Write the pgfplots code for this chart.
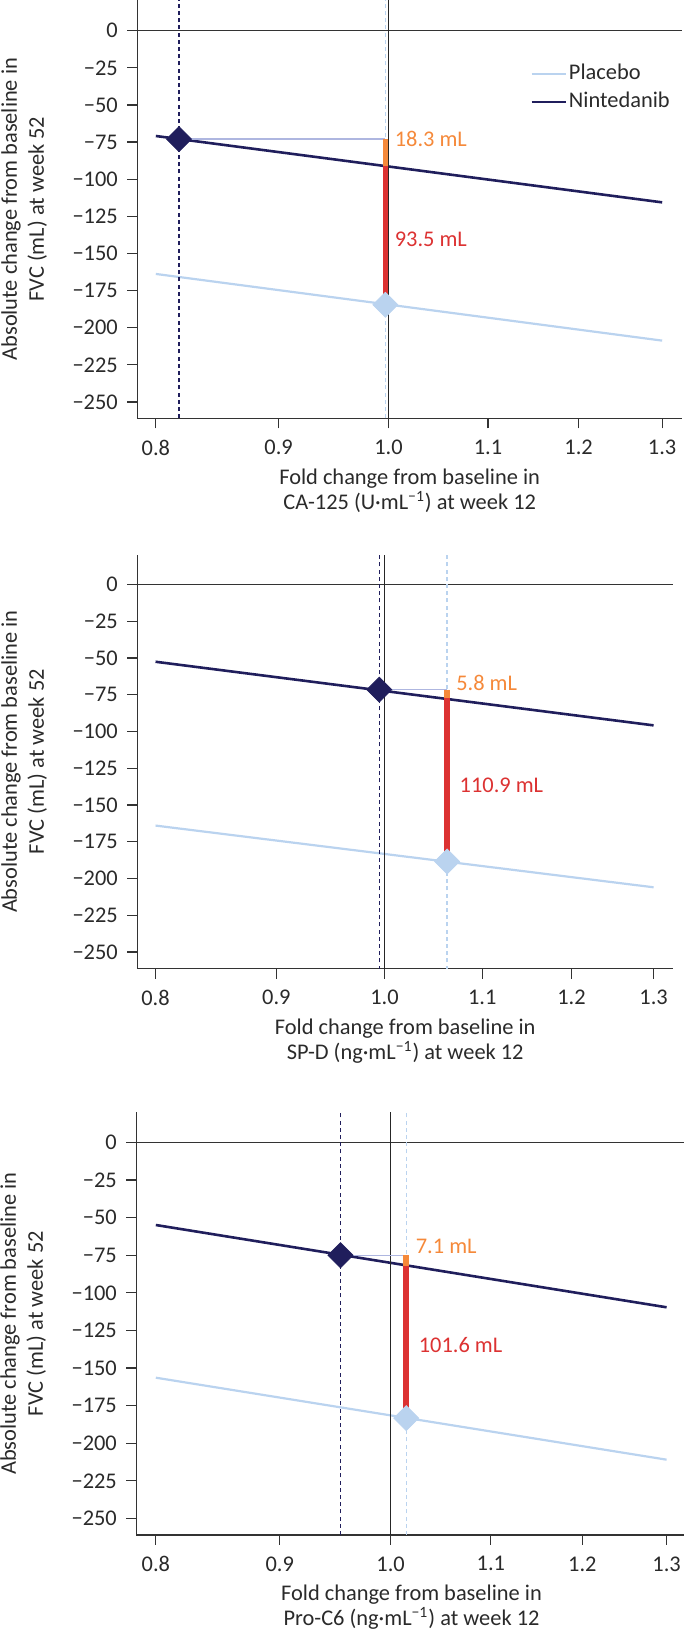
\documentclass[border=0pt]{standalone}
\usepackage{fontspec}
\setmainfont{Carlito}
\usepackage{pgfplots}
\pgfplotsset{compat=1.18}
\definecolor{navy}{HTML}{201E5C}
\definecolor{lblue}{HTML}{BAD3EF}
\definecolor{orng}{HTML}{F5893A}
\definecolor{redb}{HTML}{DC3232}
\definecolor{conn}{HTML}{AEB6E0}
\definecolor{spine}{HTML}{333333}
\definecolor{txt}{HTML}{2A2A2A}
\newcommand{\fs}{\fontsize{11.2}{12.5}\selectfont}
\begin{document}
\begin{tikzpicture}[font=\fs]
\path[use as bounding box] (0pt,0pt) rectangle (342pt,821.5pt);
% ---------------- Panel 1: CA-125
\begin{axis}[xmode=log, scale only axis, anchor=south west,
  at={(68.65pt,612.35pt)}, width=272.35pt, height=209.15pt,
  xmin=0.786, xmax=1.325, ymin=-261, ymax=20.7,
  axis lines=left, axis line style={-, spine, line width=0.7pt},
  tick align=outside, major tick length=5pt,
  tick style={spine, line width=0.6pt},
  xtick={0.8,0.9,1.0,1.1,1.2,1.3},
  xticklabels={0.8,0.9,1.0,1.1,1.2,1.3},
  minor tick num=0,
  ytick={0,-25,-50,-75,-100,-125,-150,-175,-200,-225,-250},
  yticklabels={0,−25,−50,−75,−100,−125,−150,−175,−200,−225,−250},
  yticklabel style={inner sep=0pt, xshift=-4.6pt, text=txt, font=\fs},
  xticklabel style={inner sep=0pt, yshift=-5.6pt, text=txt, font=\fs},
  ylabel style={at={([xshift=-45pt]axis description cs:0,0.5)}, anchor=south, align=center, inner sep=0pt, font=\fontsize{11.2}{13.5}\selectfont, text=txt},
  xlabel style={at={([yshift=-25pt]axis description cs:0.5,0)}, anchor=north, align=center, inner sep=0pt, font=\fontsize{11.2}{12.5}\selectfont, text=txt},
  ylabel={Absolute change from baseline in\\FVC (mL) at week 52},
  xlabel={Fold change from baseline in\\CA-125 (U·mL\textsuperscript{−1}) at week 12},
  legend style={at={(0.7206,0.853)}, anchor=north west, draw=none, fill=none, inner sep=0pt, row sep=2pt, font=\fs, nodes={inner sep=1pt, text height=8pt, text depth=2pt, text=txt}},
  legend cell align=left,
]
\addplot[lblue, line width=1.1pt] coordinates {(0.8,-163.8) (1.3,-208.7)};
\addlegendentry{Placebo}
\addplot[navy, line width=1.3pt] coordinates {(0.8,-70.9) (1.3,-115.6)};
\addlegendentry{Nintedanib}
\addplot[forget plot, spine, line width=0.7pt] coordinates {(0.786,0) (1.325,0)};
\addplot[forget plot, navy, line width=0.6pt, dash pattern=on 2pt off 1.6pt] coordinates {(0.818,-261) (0.818,20.7)};
\addplot[forget plot, lblue, line width=0.6pt, dash pattern=on 2pt off 1.6pt] coordinates {(0.997,-261) (0.997,20.7)};
\addplot[forget plot, black!85, line width=0.55pt] coordinates {(1.0,-261) (1.0,20.7)};
\addplot[forget plot, conn, line width=0.7pt] coordinates {(0.818,-73) (0.997,-73)};
\addplot[forget plot, orng, line width=2.8pt] coordinates {(0.997,-73) (0.997,-91.3)};
\addplot[forget plot, redb, line width=2.8pt] coordinates {(0.997,-91.3) (0.997,-184.8)};
\addplot[forget plot, only marks, mark=square*, mark size=4.4pt, mark options={rotate=45, solid}, navy] coordinates {(0.818,-73)};
\addplot[forget plot, only marks, mark=square*, mark size=4.4pt, mark options={rotate=45, solid}, lblue] coordinates {(0.997,-184.6)};
\node[anchor=west, inner sep=0pt, text=orng, xshift=4.5pt, font=\fs] at (axis cs:0.997,-72.9) {18.3 mL};
\node[anchor=west, inner sep=0pt, text=redb, xshift=4.5pt, font=\fs] at (axis cs:0.997,-140.3) {93.5 mL};
\end{axis}
% ---------------- Panel 2: SP-D
\begin{axis}[xmode=log, scale only axis, anchor=south west,
  at={(68.65pt,337.15pt)}, width=267.9pt, height=206.95pt,
  xmin=0.786, xmax=1.325, ymin=-261.4, ymax=20.3,
  axis lines=left, axis line style={-, spine, line width=0.7pt},
  tick align=outside, major tick length=5pt,
  tick style={spine, line width=0.6pt},
  xtick={0.8,0.9,1.0,1.1,1.2,1.3},
  xticklabels={0.8,0.9,1.0,1.1,1.2,1.3},
  minor tick num=0,
  ytick={0,-25,-50,-75,-100,-125,-150,-175,-200,-225,-250},
  yticklabels={0,−25,−50,−75,−100,−125,−150,−175,−200,−225,−250},
  yticklabel style={inner sep=0pt, xshift=-4.6pt, text=txt, font=\fs},
  xticklabel style={inner sep=0pt, yshift=-5.6pt, text=txt, font=\fs},
  ylabel style={at={([xshift=-45pt]axis description cs:0,0.5)}, anchor=south, align=center, inner sep=0pt, font=\fontsize{11.2}{13.5}\selectfont, text=txt},
  xlabel style={at={([yshift=-25pt]axis description cs:0.5,0)}, anchor=north, align=center, inner sep=0pt, font=\fontsize{11.2}{12.5}\selectfont, text=txt},
  ylabel={Absolute change from baseline in\\FVC (mL) at week 52},
  xlabel={Fold change from baseline in\\SP-D (ng·mL\textsuperscript{−1}) at week 12},
]
\addplot[lblue, line width=1.1pt] coordinates {(0.8,-164) (1.3,-206)};
\addplot[navy, line width=1.3pt] coordinates {(0.8,-52.5) (1.3,-95.8)};
\addplot[spine, line width=0.7pt] coordinates {(0.786,0) (1.325,0)};
\addplot[navy, line width=0.6pt, dash pattern=on 2pt off 1.6pt] coordinates {(0.995,-262) (0.995,20.3)};
\addplot[lblue, line width=0.6pt, dash pattern=on 2pt off 1.6pt] coordinates {(1.063,-262) (1.063,20.3)};
\addplot[black!85, line width=0.55pt] coordinates {(1.0,-262) (1.0,20.3)};
\addplot[conn, line width=0.7pt] coordinates {(0.995,-71.5) (1.063,-71.5)};
\addplot[orng, line width=2.8pt] coordinates {(1.063,-71.5) (1.063,-77.3)};
\addplot[redb, line width=2.8pt] coordinates {(1.063,-77.3) (1.063,-188.2)};
\addplot[only marks, mark=square*, mark size=4.4pt, mark options={rotate=45, solid}, navy] coordinates {(0.995,-71.5)};
\addplot[only marks, mark=square*, mark size=4.4pt, mark options={rotate=45, solid}, lblue] coordinates {(1.063,-188.4)};
\node[anchor=west, inner sep=0pt, text=orng, xshift=4.4pt, font=\fs] at (axis cs:1.063,-67.2) {5.8 mL};
\node[anchor=west, inner sep=0pt, text=redb, xshift=6.1pt, font=\fs] at (axis cs:1.063,-136.4) {110.9 mL};
\end{axis}
% ---------------- Panel 3: Pro-C6
\begin{axis}[xmode=log, scale only axis, anchor=south west,
  at={(68.2pt,54.05pt)}, width=275.1pt, height=211.2pt,
  xmin=0.7855, xmax=1.325, ymin=-260.9, ymax=19.9,
  axis lines=left, axis line style={-, spine, line width=0.7pt},
  tick align=outside, major tick length=5pt,
  tick style={spine, line width=0.6pt},
  xtick={0.8,0.9,1.0,1.1,1.2,1.3},
  xticklabels={0.8,0.9,1.0,1.1,1.2,1.3},
  minor tick num=0,
  ytick={0,-25,-50,-75,-100,-125,-150,-175,-200,-225,-250},
  yticklabels={0,−25,−50,−75,−100,−125,−150,−175,−200,−225,−250},
  yticklabel style={inner sep=0pt, xshift=-4.6pt, text=txt, font=\fs},
  xticklabel style={inner sep=0pt, yshift=-5.6pt, text=txt, font=\fs},
  ylabel style={at={([xshift=-45pt]axis description cs:0,0.5)}, anchor=south, align=center, inner sep=0pt, font=\fontsize{11.2}{13.5}\selectfont, text=txt},
  xlabel style={at={([yshift=-25pt]axis description cs:0.5,0)}, anchor=north, align=center, inner sep=0pt, font=\fontsize{11.2}{12.5}\selectfont, text=txt},
  ylabel={Absolute change from baseline in\\FVC (mL) at week 52},
  xlabel={Fold change from baseline in\\Pro-C6 (ng·mL\textsuperscript{−1}) at week 12},
]
\addplot[lblue, line width=1.1pt] coordinates {(0.8,-156.4) (1.3,-210.9)};
\addplot[navy, line width=1.3pt] coordinates {(0.8,-54.9) (1.3,-109.6)};
\addplot[spine, line width=0.7pt] coordinates {(0.785,0) (1.325,0)};
\addplot[navy, line width=0.6pt, dash pattern=on 2pt off 1.6pt] coordinates {(0.9535,-261) (0.9535,19.9)};
\addplot[lblue, line width=0.6pt, dash pattern=on 2pt off 1.6pt] coordinates {(1.015,-261) (1.015,19.9)};
\addplot[black!85, line width=0.55pt] coordinates {(1.0,-261) (1.0,19.9)};
\addplot[conn, line width=0.7pt] coordinates {(0.9535,-75) (1.015,-75)};
\addplot[orng, line width=2.8pt] coordinates {(1.015,-75) (1.015,-82.1)};
\addplot[redb, line width=2.8pt] coordinates {(1.015,-82.1) (1.015,-183.7)};
\addplot[only marks, mark=square*, mark size=4.4pt, mark options={rotate=45, solid}, navy] coordinates {(0.9535,-75)};
\addplot[only marks, mark=square*, mark size=4.4pt, mark options={rotate=45, solid}, lblue] coordinates {(1.015,-183.3)};
\node[anchor=west, inner sep=0pt, text=orng, xshift=4.6pt, font=\fs] at (axis cs:1.015,-69.3) {7.1 mL};
\node[anchor=west, inner sep=0pt, text=redb, xshift=6.1pt, font=\fs] at (axis cs:1.015,-134.8) {101.6 mL};
\end{axis}
\end{tikzpicture}
\end{document}
